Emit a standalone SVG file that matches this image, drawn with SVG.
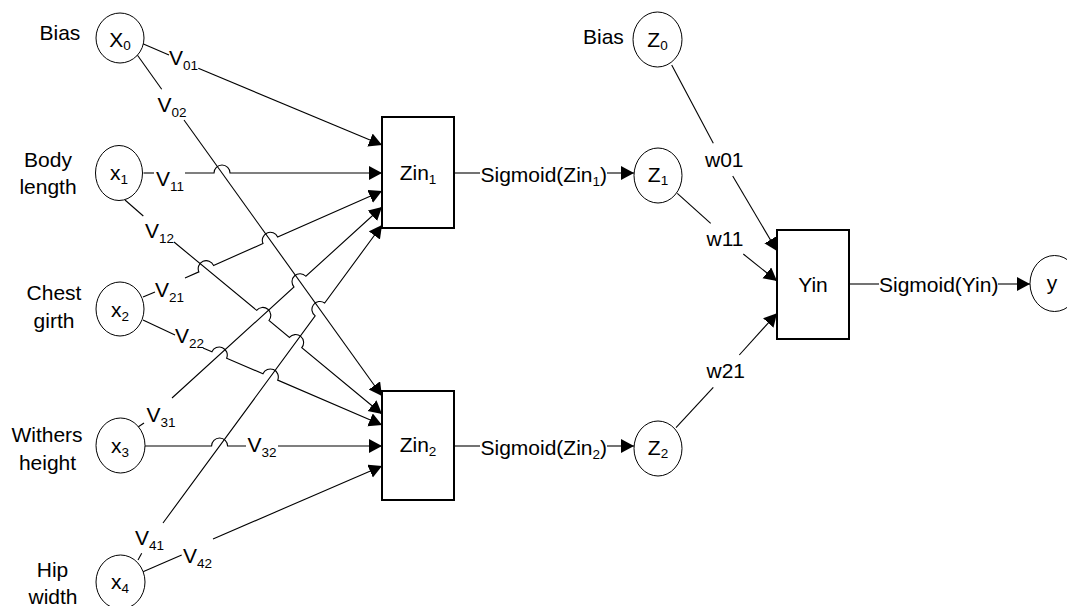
<svg xmlns="http://www.w3.org/2000/svg" width="1067" height="606" viewBox="0 0 1067 606">
<style>
text{font-family:"Liberation Sans",Arial,sans-serif;font-size:21px;fill:#000}
.sub{font-size:13.5px}
.m{text-anchor:middle}
.node{fill:#fff;stroke:#000;stroke-width:1}
.box{fill:#fff;stroke:#000;stroke-width:2}
.c{fill:none;stroke:#000;stroke-width:1.1}
</style>
<defs>
<marker id="ah" markerUnits="userSpaceOnUse" markerWidth="15" markerHeight="15" refX="13" refY="7" orient="auto">
<path d="M0,0 L13,7 L0,14 z" fill="#000"/>
</marker>
</defs>
<rect width="1067" height="606" fill="#fff"/>
<g id="connectors">
<path class="c" d="M141.7,43.3 L169,55"/>
<path class="c" d="M137.3,55 L161.7,89.3"/>
<path class="c" d="M143.5,173 L154,173"/>
<path class="c" d="M125,200 L143.3,216"/>
<path class="c" d="M143,297 L155,292"/>
<path class="c" d="M143,320 L175,335"/>
<path class="c" d="M138,427 L144,423"/>
<path class="c" d="M138,560 L141.7,553.3"/>
<path class="c" d="M143,571.7 L181.7,555"/>
<path class="c" marker-end="url(#ah)" d="M198.3,68.3 L382,145"/>
<path class="c" marker-end="url(#ah)" d="M184,120 L382,396"/>
<path class="c" marker-end="url(#ah)" d="M185,173 L214.02,173 A8,8 0 0 1 230.02,173 L382,173"/>
<path class="c" marker-end="url(#ah)" d="M174,242 L256.63,310.32 A8,8 0 0 1 268.96,320.52 L289.44,337.45 A8,8 0 0 1 301.77,347.65 L382,414"/>
<path class="c" marker-end="url(#ah)" d="M185,278 L198.89,271.86 A8,8 0 0 1 213.53,265.4 L263,243.55 A8,8 0 0 1 277.64,237.09 L382,191"/>
<path class="c" marker-end="url(#ah)" d="M203,348 L211.92,351.84 A8,8 0 0 1 226.62,358.16 L262.97,373.8 A8,8 0 0 1 277.67,380.12 L382,425"/>
<path class="c" marker-end="url(#ah)" d="M172,398 L294.03,287.01 A8,8 0 0 1 305.87,276.25 L382,207"/>
<path class="c" d="M144.5,446 L211.59,446 A8,8 0 0 1 227.59,446 L246,446"/>
<path class="c" marker-end="url(#ah)" d="M278,446 L382,446"/>
<path class="c" marker-end="url(#ah)" d="M163,523 L315.18,315.92 A8,8 0 0 1 324.66,303.02 L382,225"/>
<path class="c" marker-end="url(#ah)" d="M213,539 L382,466"/>
<path class="c" d="M454,173 L480,173"/>
<path class="c" marker-end="url(#ah)" d="M607,173 L634,173"/>
<path class="c" d="M454,446 L480,446"/>
<path class="c" marker-end="url(#ah)" d="M607,446 L634,446"/>
<path class="c" d="M671.7,65 L713.3,143.3"/>
<path class="c" marker-end="url(#ah)" d="M732.7,176 L777,251"/>
<path class="c" d="M677.3,193.3 L710.7,223.3"/>
<path class="c" marker-end="url(#ah)" d="M743.3,254 L777,281"/>
<path class="c" d="M676,427.7 L713.3,387.3"/>
<path class="c" marker-end="url(#ah)" d="M739.3,355 L777,313.3"/>
<path class="c" d="M849,284 L879,284"/>
<path class="c" marker-end="url(#ah)" d="M998,284 L1030,284"/>
<text x="169" y="65">V<tspan class="sub" dy="5">01</tspan></text>
<text x="157.5" y="111.7">V<tspan class="sub" dy="5">02</tspan></text>
<text x="156" y="186">V<tspan class="sub" dy="5">11</tspan></text>
<text x="145" y="238">V<tspan class="sub" dy="5">12</tspan></text>
<text x="155" y="296.7">V<tspan class="sub" dy="5">21</tspan></text>
<text x="175" y="343.3">V<tspan class="sub" dy="5">22</tspan></text>
<text x="146.5" y="421.7">V<tspan class="sub" dy="5">31</tspan></text>
<text x="247.5" y="451.5">V<tspan class="sub" dy="5">32</tspan></text>
<text x="135" y="545">V<tspan class="sub" dy="5">41</tspan></text>
<text x="183" y="563.3">V<tspan class="sub" dy="5">42</tspan></text>
<text x="480.5" y="181.5">Sigmoid(Zin<tspan class="sub" dy="4">1</tspan><tspan dy="-4">)</tspan></text>
<text x="480.5" y="454.5">Sigmoid(Zin<tspan class="sub" dy="4">2</tspan><tspan dy="-4">)</tspan></text>
<text x="879" y="291.5">Sigmoid(Yin)</text>
<text x="705" y="166.5">w01</text>
<text x="706.5" y="245.5">w11</text>
<text x="706.5" y="377.5">w21</text>
</g>
<g id="X0">
<text x="39.5" y="39.5">Bias</text>
<ellipse class="node" cx="120" cy="38" rx="24" ry="25"/>
<text class="m" x="120" y="47">X<tspan class="sub" dy="3">0</tspan></text>
</g>
<g id="x1">
<text class="m" x="48" y="166.5">Body</text>
<text class="m" x="48" y="194">length</text>
<ellipse class="node" cx="119" cy="173" rx="23.5" ry="27.5"/>
<text class="m" x="119" y="179.5">x<tspan class="sub" dy="4">1</tspan></text>
</g>
<g id="x2">
<text class="m" x="54" y="300">Chest</text>
<text class="m" x="54" y="328">girth</text>
<ellipse class="node" cx="120" cy="309" rx="24" ry="27"/>
<text class="m" x="120" y="317">x<tspan class="sub" dy="4">2</tspan></text>
</g>
<g id="x3">
<text class="m" x="47" y="441.5">Withers</text>
<text class="m" x="47.5" y="470">height</text>
<ellipse class="node" cx="120.5" cy="445.5" rx="24.5" ry="27.5"/>
<text class="m" x="120" y="452.5">x<tspan class="sub" dy="4">3</tspan></text>
</g>
<g id="x4">
<text class="m" x="52.5" y="576.5">Hip</text>
<text class="m" x="53" y="604">width</text>
<ellipse class="node" cx="120.5" cy="582" rx="24.5" ry="27"/>
<text class="m" x="120" y="589">x<tspan class="sub" dy="4">4</tspan></text>
</g>
<g id="Zin1">
<rect class="box" x="382" y="117" width="72" height="111"/>
<text class="m" x="418" y="180">Zin<tspan class="sub" dy="4">1</tspan></text>
</g>
<g id="Zin2">
<rect class="box" x="382" y="391" width="72" height="109"/>
<text class="m" x="418" y="452">Zin<tspan class="sub" dy="4">2</tspan></text>
</g>
<g id="Z0">
<text x="583" y="43.5">Bias</text>
<ellipse class="node" cx="657.5" cy="39.5" rx="24.5" ry="27.5"/>
<text class="m" x="657.5" y="46.5">Z<tspan class="sub" dy="3">0</tspan></text>
</g>
<g id="Z1">
<ellipse class="node" cx="658" cy="175.5" rx="24" ry="27.5"/>
<text class="m" x="658" y="182">Z<tspan class="sub" dy="3">1</tspan></text>
</g>
<g id="Z2">
<ellipse class="node" cx="658" cy="448.5" rx="24" ry="27.5"/>
<text class="m" x="658" y="454.5">Z<tspan class="sub" dy="3">2</tspan></text>
</g>
<g id="Yin">
<rect class="box" x="777" y="230" width="72" height="109"/>
<text class="m" x="813" y="292">Yin</text>
</g>
<g id="y">
<ellipse class="node" cx="1054.5" cy="283.5" rx="24.5" ry="28"/>
<text class="m" x="1052" y="289.5">y</text>
</g>
</svg>
